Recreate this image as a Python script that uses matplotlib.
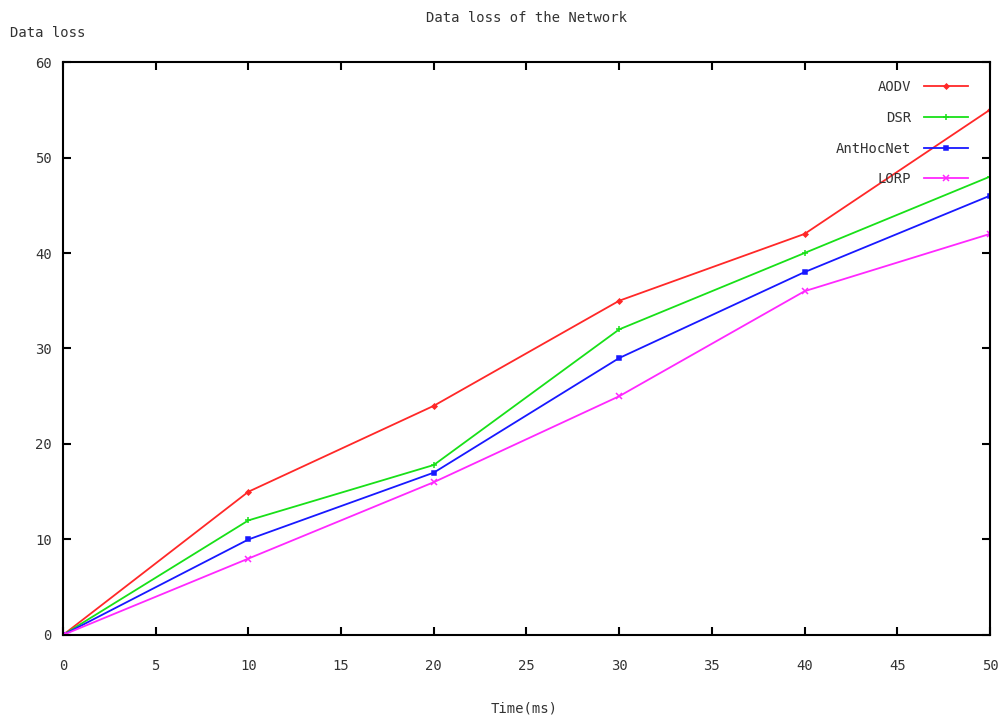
import matplotlib
matplotlib.use("Agg")
import matplotlib.pyplot as plt

# data
time_ms = [0, 10, 20, 30, 40, 50]
aodv = [0, 15, 24, 35, 42, 55]
dsr = [0, 12, 17.8, 32, 40, 48]
anthocnet = [0, 10, 17, 29, 38, 46]
lorp = [0, 8, 16, 25, 36, 42]

series = [
    ("AODV", aodv, "#ff2828", "D", 2.5),
    ("DSR", dsr, "#18e018", "+", 5),
    ("AntHocNet", anthocnet, "#1818ff", "s", 3.5),
    ("LORP", lorp, "#ff28ff", "x", 4),
]

plt.rcParams["font.family"] = "DejaVu Sans Mono"
txt = "#333333"

fig = plt.figure(figsize=(10.03, 7.17), dpi=100)
ax = fig.add_axes([0.0628, 0.1144, 0.9242, 0.7991])

for name, vals, clr, mk, ms in series:
    ax.plot(time_ms, vals, "-", color=clr, marker=mk, markersize=ms,
            linewidth=1.3, label=name, markeredgewidth=1.1)

ax.set_xlim(0, 50)
ax.set_ylim(0, 60)
ax.set_xticks(range(0, 51, 5))
ax.set_yticks(range(0, 61, 10))
ax.tick_params(direction="in", top=True, right=True, length=6, width=1.5,
               labelsize=10, colors="black", labelcolor=txt)
ax.tick_params(axis="x", pad=17)
ax.tick_params(axis="y", pad=8)
for sp in ax.spines.values():
    sp.set_linewidth(1.5)

fig.text(0.525, 0.975, "Data loss of the Network", ha="center", va="center",
         fontsize=10, color=txt)
fig.text(0.01, 0.954, "Data loss", ha="left", va="center", fontsize=10, color=txt)
fig.text(0.523, 0.012, "Time(ms)", ha="center", va="center", fontsize=10, color=txt)

leg = ax.legend(loc="upper right", bbox_to_anchor=(0.99, 0.99), frameon=False,
                markerfirst=False, fontsize=10, handlelength=3.2,
                labelspacing=1.2, handletextpad=0.9)
for t in leg.get_texts():
    t.set_color(txt)

fig.savefig("out.png", dpi=100)
